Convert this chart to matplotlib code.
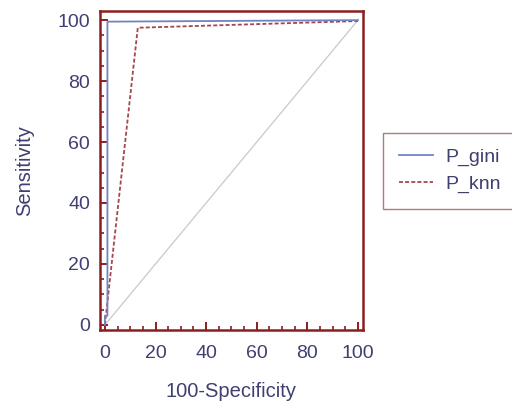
import matplotlib
matplotlib.use('Agg')
import matplotlib.pyplot as plt
from matplotlib.ticker import MultipleLocator

plt.rcParams['font.family'] = ['Liberation Sans', 'DejaVu Sans']

# ROC 곡선 데이터
gini_x = [0, 0, 1, 1, 100]
gini_y = [0, 3, 3, 99.5, 100]
knn_x = [0, 13, 100]
knn_y = [0, 97.5, 99.7]
diag_x = [0, 100]
diag_y = [0, 100]

axis_red = '#8b1f1f'
text_col = '#3f3f72'

fig = plt.figure(figsize=(5.12, 4.07), dpi=100)
ax = fig.add_axes([0.195, 0.189, 0.514, 0.784])

ax.plot(diag_x, diag_y, color='#c9c9c9', lw=0.9, zorder=1)
l1, = ax.plot(gini_x, gini_y, color='#7283c4', lw=1.3, label='P_gini', zorder=3)
l2, = ax.plot(knn_x, knn_y, color='#a34848', lw=1.3, ls=(0, (2.2, 1.2)), label='P_knn', zorder=2)

ax.set_xlim(-2, 102)
ax.set_ylim(-1.7, 103)
ax.xaxis.set_major_locator(MultipleLocator(20))
ax.xaxis.set_minor_locator(MultipleLocator(5))
ax.yaxis.set_major_locator(MultipleLocator(20))
ax.yaxis.set_minor_locator(MultipleLocator(5))

for s in ax.spines.values():
    s.set_color(axis_red)
    s.set_linewidth(1.8)

ax.tick_params(which='major', direction='in', length=6, width=1.4, color=axis_red,
               labelsize=14, labelcolor=text_col)
ax.tick_params(axis='x', pad=11)
ax.tick_params(axis='y', pad=7)
ax.tick_params(which='minor', direction='in', length=3, width=1.2, color=axis_red)
ax.tick_params(top=False, right=False, which='both')

ax.set_xlabel('100-Specificity', fontsize=14.5, color=text_col, labelpad=14)
ax.set_ylabel('Sensitivity', fontsize=14.5, color=text_col, labelpad=17)

leg = fig.legend(handles=[l1, l2], loc='upper left', bbox_to_anchor=(0.748, 0.673),
                 borderaxespad=0, fontsize=14, frameon=True, fancybox=False,
                 handlelength=1.75, handletextpad=0.65, borderpad=0.8,
                 labelspacing=0.45)
leg.get_frame().set_edgecolor('#9a5a5a')
leg.get_frame().set_linewidth(1.0)
for t in leg.get_texts():
    t.set_color(text_col)

fig.savefig('out.png', dpi=100)
